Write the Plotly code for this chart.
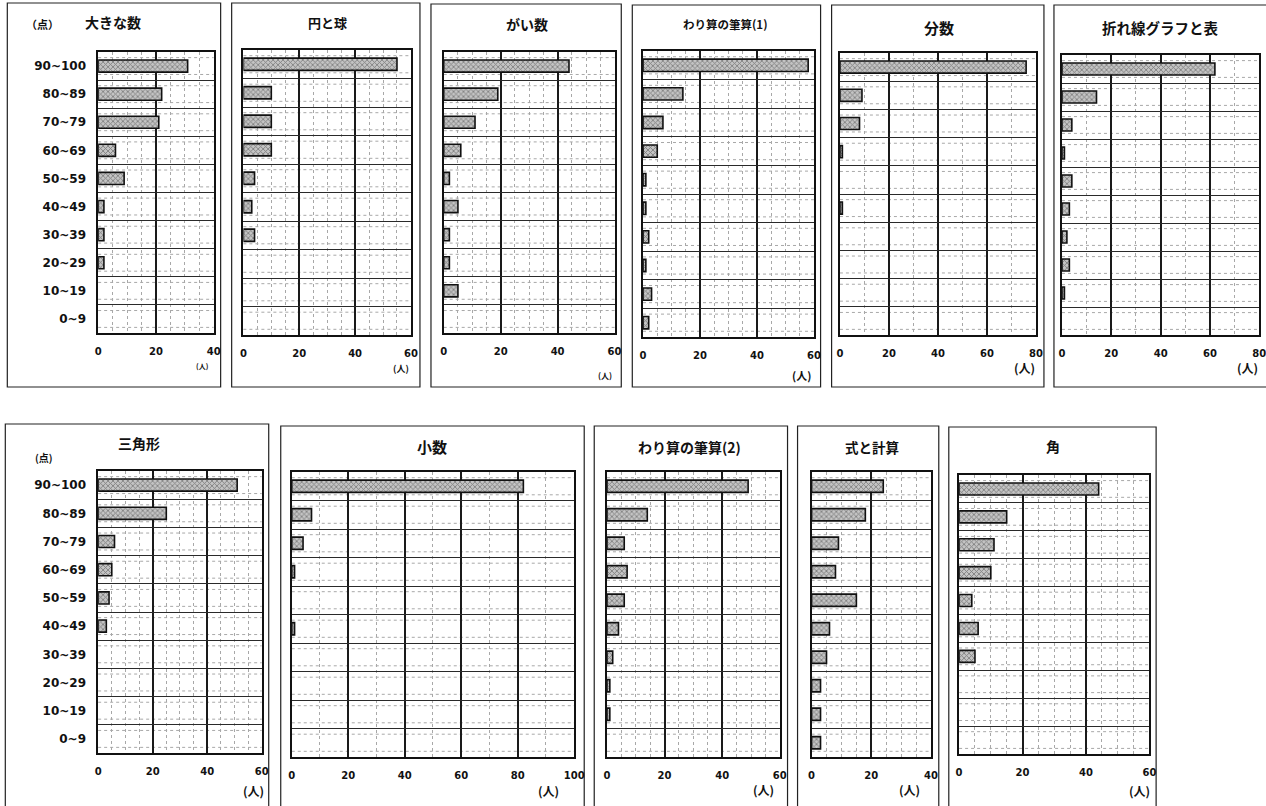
import plotly.graph_objects as go

W, H = 1266, 806
FIG_W = 1281  # page is shown slightly compressed horizontally; widen to fill the frame
X_OFF = 2.7   # small constant horizontal offset seen in the rendered frame

categories = ["90~100", "80~89", "70~79", "60~69", "50~59",
              "40~49", "30~39", "20~29", "10~19", "0~9"]

titles = ["大きな数", "円と球", "がい数", "わり算の筆算(1)", "分数", "折れ線グラフと表",
          "三角形", "小数", "わり算の筆算(2)", "式と計算", "角"]

vals_ookina = [31, 22, 21, 6, 9, 2, 2, 2, 0, 0]
vals_en = [55, 10, 10, 10, 4, 3, 4, 0, 0, 0]
vals_gaisu = [44, 19, 11, 6, 2, 5, 2, 2, 5, 0]
vals_warizan1 = [58, 14, 7, 5, 1, 1, 2, 1, 3, 2]
vals_bunsu = [76, 9, 8, 1, 0, 1, 0, 0, 0, 0]
vals_oresen = [62, 14, 4, 1, 4, 3, 2, 3, 1, 0]
vals_sankaku = [51, 25, 6, 5, 4, 3, 0, 0, 0, 0]
vals_shosu = [82, 7, 4, 1, 0, 1, 0, 0, 0, 0]
vals_warizan2 = [49, 14, 6, 7, 6, 4, 2, 1, 1, 0]
vals_shiki = [24, 18, 9, 8, 15, 6, 5, 3, 3, 3]
vals_kaku = [44, 15, 11, 10, 4, 6, 5, 0, 0, 0]

series = [vals_ookina, vals_en, vals_gaisu, vals_warizan1, vals_bunsu, vals_oresen,
          vals_sankaku, vals_shosu, vals_warizan2, vals_shiki, vals_kaku]
axis_max = [40, 60, 60, 60, 80, 80, 60, 100, 60, 40, 60]
y_unit_top = "（点）"
y_unit_bottom = "(点)"
x_unit = "(人)"

# layout geometry (pixels in the reference frame)
geo = [
    dict(plot=(97.7, 213, 52, 333), box=(7, 220, 3, 387), title=(113, 22), unit=(202, 366), usize=7, ylab=True, pt=(42, 24), ptsize=11, tsize=14),
    dict(plot=(242.7, 410, 50, 335), box=(231, 419, 3, 387), title=(327, 22), unit=(400, 369), usize=9, ylab=False, tsize=13),
    dict(plot=(442.7, 613.3, 52, 333), box=(430, 620, 4, 387), title=(526, 24), unit=(604, 375), usize=8, ylab=False, tsize=14),
    dict(plot=(641.7, 812.3, 51, 337), box=(631, 819, 5, 387), title=(724, 24), unit=(800, 375), usize=11, ylab=False, tsize=11.5),
    dict(plot=(838.3, 1034, 53, 335), box=(830, 1042, 5, 387), title=(937, 27), unit=(1023, 367), usize=12, ylab=False, tsize=15),
    dict(plot=(1060, 1257, 55, 335), box=(1052, 1265, 5, 387), title=(1158, 28), unit=(1245, 367), usize=12, ylab=False, tsize=14.5),
    dict(plot=(97.7, 261, 471, 753), box=(5, 268, 424, 812), title=(138, 443), unit=(253, 790), usize=12, ylab=True, pt=(44, 457), ptsize=10, tsize=14),
    dict(plot=(291, 573, 472, 757), box=(280, 583, 426, 812), title=(431, 446), unit=(547, 790), usize=12, ylab=False, tsize=15),
    dict(plot=(605.7, 778.3, 472, 757), box=(593, 786, 426, 812), title=(688, 447), unit=(762, 789), usize=12, ylab=False, tsize=14),
    dict(plot=(810, 929.3, 472, 757), box=(796, 937, 426, 812), title=(870, 447), unit=(908, 789), usize=12, ylab=False, tsize=13.5),
    dict(plot=(957.3, 1147.3, 475, 754), box=(947, 1154, 427, 812), title=(1051, 446), unit=(1137, 790), usize=12, ylab=False, tsize=14),
]

FONT = "Noto Sans CJK JP"
TICKFONT = "DejaVu Sans"

def px(x):
    return (x - X_OFF) / W

def py(y):
    return 1 - y / H

fig = go.Figure()
shapes = []
annotations = []
layout_axes = {}

for i, (vals, mx, g) in enumerate(zip(series, axis_max, geo)):
    n = i + 1
    xa = "x" if n == 1 else f"x{n}"
    ya = "y" if n == 1 else f"y{n}"
    fig.add_trace(go.Bar(
        x=vals, y=categories, orientation="h",
        xaxis=xa, yaxis=ya,
        marker=dict(color="#bdbdbd",
                    pattern=dict(shape="x", fgcolor="#3a3a3a", bgcolor="#c4c4c4",
                                 size=3.5, solidity=0.45),
                    line=dict(color="#111", width=[1.6 if v > 0 else 0 for v in vals])),
        showlegend=False, hoverinfo="x+y",
    ))
    x0, x1, y0, y1 = g["plot"]
    layout_axes["xaxis" if n == 1 else f"xaxis{n}"] = dict(
        domain=[px(x0), px(x1)], anchor=ya, range=[0, mx], dtick=20,
        showgrid=True, gridcolor="#1a1a1a", gridwidth=1.5,
        minor=dict(dtick=5 if mx <= 60 else 10, showgrid=True, griddash="dot",
                   gridcolor="#a8a8a8", gridwidth=1),
        showline=True, linecolor="#111", linewidth=1.5, mirror=True,
        zeroline=False, ticks="outside", ticklen=8, tickcolor="rgba(0,0,0,0)",
        tickfont=dict(family=TICKFONT, size=10, color="#111", weight="bold"),
        fixedrange=True,
    )
    layout_axes["yaxis" if n == 1 else f"yaxis{n}"] = dict(
        domain=[py(y1), py(y0)], anchor=xa, type="category",
        categoryorder="array", categoryarray=categories[::-1],
        tickson="boundaries", showgrid=True, gridcolor="#2a2a2a", gridwidth=1,
        showline=True, linecolor="#111", linewidth=1.5, mirror=True,
        showticklabels=g["ylab"], ticks="", ticklabelstandoff=8,
        tickfont=dict(family=TICKFONT, size=12, color="#111", weight="bold"),
        fixedrange=True,
    )
    # faint dotted texture lines inside each row
    for k in range(len(categories)):
        for off in (-0.3, 0.3):
            shapes.append(dict(type="line", xref=f"{xa} domain", yref=ya,
                               x0=0, x1=1, y0=k + off, y1=k + off,
                               line=dict(color="#a8a8a8", width=1, dash="dot"), layer="below"))
    bx0, bx1, by0, by1 = g["box"]
    shapes.append(dict(type="rect", xref="paper", yref="paper",
                       x0=px(bx0), x1=px(bx1), y0=py(by1), y1=py(by0),
                       line=dict(color="#222", width=1.2), fillcolor="rgba(0,0,0,0)", layer="below"))
    tx, ty = g["title"]
    annotations.append(dict(text=titles[i], x=px(tx), y=py(ty), xref="paper", yref="paper",
                            showarrow=False, xanchor="center", yanchor="middle",
                            font=dict(family=FONT, size=g["tsize"], color="#111", weight="bold")))
    ux, uy = g["unit"]
    annotations.append(dict(text=x_unit, x=px(ux), y=py(uy), xref="paper", yref="paper",
                            showarrow=False, xanchor="center", yanchor="middle", borderpad=0,
                            font=dict(family=FONT, size=g["usize"], color="#111", weight="bold")))
    if "pt" in g:
        ptx, pty = g["pt"]
        annotations.append(dict(text=y_unit_top if n == 1 else y_unit_bottom,
                                x=px(ptx), y=py(pty), xref="paper", yref="paper",
                                showarrow=False, xanchor="center", yanchor="middle",
                                font=dict(family=FONT, size=g["ptsize"], color="#111", weight="bold")))

fig.update_layout(
    width=FIG_W, height=H, margin=dict(l=0, r=0, t=0, b=0),
    paper_bgcolor="white", plot_bgcolor="white",
    bargap=0.57, shapes=shapes, annotations=annotations,
    font=dict(family=FONT, color="#111"),
    **layout_axes,
)

fig.write_html(
    "out.html",
    config={"displayModeBar": False},
    post_script="document.documentElement.style.overflow='hidden';document.body.style.margin='0';document.body.style.padding='0';document.body.style.overflow='hidden';",
)
